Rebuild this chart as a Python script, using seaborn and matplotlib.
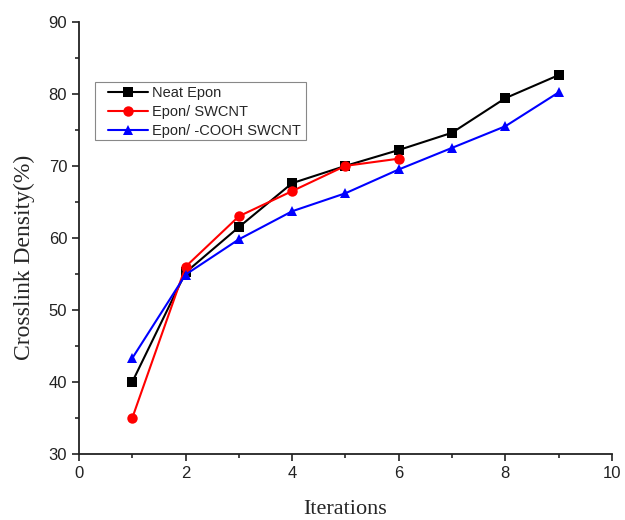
import matplotlib
matplotlib.use("Agg")
import matplotlib.pyplot as plt
import seaborn as sns
import pandas as pd
from matplotlib.ticker import MultipleLocator
from matplotlib.patches import Rectangle

iterations_neat = [1, 2, 3, 4, 5, 6, 7, 8, 9]
neat_epon = [40.0, 55.2, 61.5, 67.6, 70.0, 72.2, 74.6, 79.4, 82.6]
iterations_swcnt = [1, 2, 3, 4, 5, 6]
epon_swcnt = [35.0, 56.0, 63.0, 66.5, 70.0, 71.0]
iterations_cooh = [1, 2, 3, 4, 5, 6, 7, 8, 9]
epon_cooh = [43.3, 54.9, 59.8, 63.7, 66.2, 69.5, 72.5, 75.5, 80.2]
series_names = ["Neat Epon", "Epon/ SWCNT", "Epon/ -COOH SWCNT"]

df = pd.concat([
    pd.DataFrame({"x": iterations_neat, "y": neat_epon, "s": series_names[0]}),
    pd.DataFrame({"x": iterations_swcnt, "y": epon_swcnt, "s": series_names[1]}),
    pd.DataFrame({"x": iterations_cooh, "y": epon_cooh, "s": series_names[2]}),
])

sns.set_style("ticks")
plt.rcParams["font.family"] = ["Liberation Sans", "DejaVu Sans"]

fig = plt.figure(figsize=(6.25, 5.2), dpi=100)
ax = fig.add_axes([0.1264, 0.127, 0.8526, 0.831])

palette = {series_names[0]: "#000000", series_names[1]: "#ff0000", series_names[2]: "#0000ff"}
markers = {series_names[0]: "s", series_names[1]: "o", series_names[2]: "^"}
sns.lineplot(data=df, x="x", y="y", hue="s", style="s", palette=palette,
             markers=markers, dashes=False, markersize=7.5, linewidth=1.5,
             markeredgewidth=0, ax=ax)

ax.set_xlim(0, 10)
ax.set_ylim(30, 90)
ax.xaxis.set_major_locator(MultipleLocator(2))
ax.xaxis.set_minor_locator(MultipleLocator(1))
ax.yaxis.set_major_locator(MultipleLocator(10))
ax.yaxis.set_minor_locator(MultipleLocator(5))
ax.tick_params(which="major", direction="out", length=5, width=1.2, labelsize=12, colors="#222222")
ax.tick_params(which="minor", direction="out", length=3, width=1.2)
for side in ["top", "right"]:
    ax.spines[side].set_visible(False)
for side in ["left", "bottom"]:
    ax.spines[side].set_linewidth(1.3)
    ax.spines[side].set_color("#222222")

ax.set_xlabel("Iterations", family="Liberation Serif", fontsize=16, labelpad=14)
ax.set_ylabel("Crosslink Density(%)", family="Liberation Serif", fontsize=17)
ax.yaxis.set_label_coords(-0.082, 0.456)

leg = ax.legend(loc="upper left", bbox_to_anchor=(0.0544, 0.851), fontsize=10.5,
                frameon=False, borderpad=0, handlelength=2.75, handletextpad=0.25,
                labelspacing=0.33, borderaxespad=0)
leg.set_title(None)
ax.add_patch(Rectangle((0.030, 0.727), 0.396, 0.134, transform=ax.transAxes,
                       fill=False, edgecolor="#888888", linewidth=0.8, zorder=5))

fig.savefig("out.png", dpi=100)
